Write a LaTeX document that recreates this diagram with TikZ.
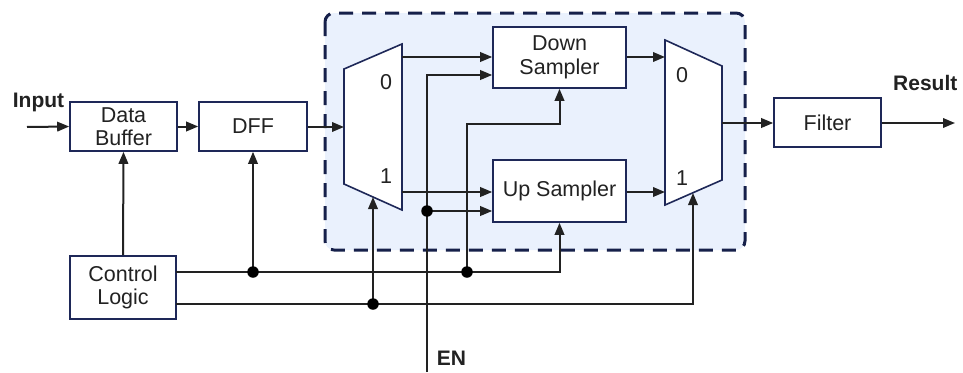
\documentclass[tikz,border=0pt]{standalone}
\usepackage{fontspec}
\setmainfont{Liberation Sans}
\usetikzlibrary{arrows.meta,calc}
\definecolor{boxc}{RGB}{30,40,88}
\definecolor{linec}{RGB}{34,34,34}
\definecolor{regfill}{RGB}{234,241,253}
\definecolor{regdraw}{RGB}{22,32,74}
\begin{document}
\begin{tikzpicture}[x=1pt,y=-1pt,
  every node/.style={font=\fontsize{21.5}{23.5}\selectfont, text=linec},
  blk/.style={draw=boxc, fill=white, line width=1.6pt, align=center, inner sep=0pt},
  muxshape/.style={draw=boxc, fill=white, line width=1.6pt, line join=miter},
  wire/.style={draw=linec, line width=2pt},
  arr/.style={wire, -{Triangle[length=12pt,width=9.5pt]}},
  jdot/.style={circle, fill=black, inner sep=0pt, minimum size=11.5pt},
  lbl/.style={font=\fontsize{21}{23.5}\selectfont\bfseries, inner sep=0pt, anchor=base west}
]
\useasboundingbox (0,0) rectangle (963,372);

% region
\draw[fill=regfill, draw=regdraw, line width=3pt, dash pattern=on 14pt off 9pt, rounded corners=9pt]
  (325,13) rectangle (745,250);

% blocks
\node[blk, minimum width=107pt, minimum height=49pt] (db) at (123.5,126.5) {Data\\Buffer};
\node[blk, minimum width=108pt, minimum height=49pt] (dff) at (253,126.5) {DFF};
\node[blk, minimum width=133pt, minimum height=61pt] (ds) at (559.5,57.5) {Down\\Sampler};
\node[blk, minimum width=133pt, minimum height=62pt] (us) at (559.5,191) {Up Sampler};
\node[blk, minimum width=106pt, minimum height=63pt] (cl) at (123,287.5) {Control\\Logic};
\node[blk, minimum width=107pt, minimum height=49pt] (flt) at (827.5,122.5) {Filter};

% muxes
\draw[muxshape] (344,69) -- (402,44) -- (402,210) -- (344,184) -- cycle;
\draw[muxshape] (665,40) -- (722,66) -- (722,180) -- (665,205) -- cycle;
\node (m1zero) at (386,82.5) {0};
\node (m1one) at (386,176) {1};
\node (m2zero) at (682,75) {0};
\node (m2one) at (682,178) {1};

% named points
\coordinate (inp) at (27,127);
\coordinate (m1in) at (344,127);
\coordinate (m1o0) at (402,57);
\coordinate (m1o1) at (402,192);
\coordinate (m1sel) at (373,197);
\coordinate (m2i0) at (665,57);
\coordinate (m2i1) at (665,192);
\coordinate (m2out) at (722,123);
\coordinate (m2sel) at (693,193);
\coordinate (res) at (955,123);
\coordinate (enb) at (427,372);
\coordinate (ena) at (427,75);
\coordinate (cla) at (176,272);
\coordinate (clb) at (176,304);
\coordinate (ja) at (253,272);
\coordinate (jb) at (467,272);
\coordinate (jc) at (373,304);
\coordinate (jd) at (427,211);

% wires
\draw[arr] (inp) -- (db.west);
\draw[arr] (db.east) -- (dff.west);
\draw[arr] (dff.east |- m1in) -- (m1in);
\draw[arr] (m1o0) -- (ds.west |- m1o0);
\draw[arr] (m1o1) -- (us.west |- m1o1);
\draw[arr] (enb) -- (ena) -- (ds.west |- ena);
\draw[arr] (jd) -- (us.west |- jd);
\draw[arr] (cla) -- (us.south |- cla) -- (us.south);
\draw[arr] (jb) -- (467,124) -- (ds.south |- 0,124) -- (ds.south);
\draw[arr] (ja) -- (dff.south);
\draw[arr] (cl.north) -- (db.south);
\draw[arr] (clb) -- (m2sel |- clb) -- (m2sel);
\draw[arr] (jc) -- (m1sel);
\draw[arr] (ds.east |- m2i0) -- (m2i0);
\draw[arr] (us.east |- m2i1) -- (m2i1);
\draw[arr] (m2out) -- (flt.west |- m2out);
\draw[arr] (flt.east |- res) -- (res);

% junctions
\node[jdot] (dja) at (ja) {};
\node[jdot] (djb) at (jb) {};
\node[jdot] (djc) at (jc) {};
\node[jdot] (djd) at (jd) {};

% labels
\node[lbl] (linput) at (12.7,107.7) {Input};
\node[lbl] (lresult) at (893,90.7) {Result};
\node[lbl] (len) at (436.7,365) {EN};
\end{tikzpicture}
\end{document}
